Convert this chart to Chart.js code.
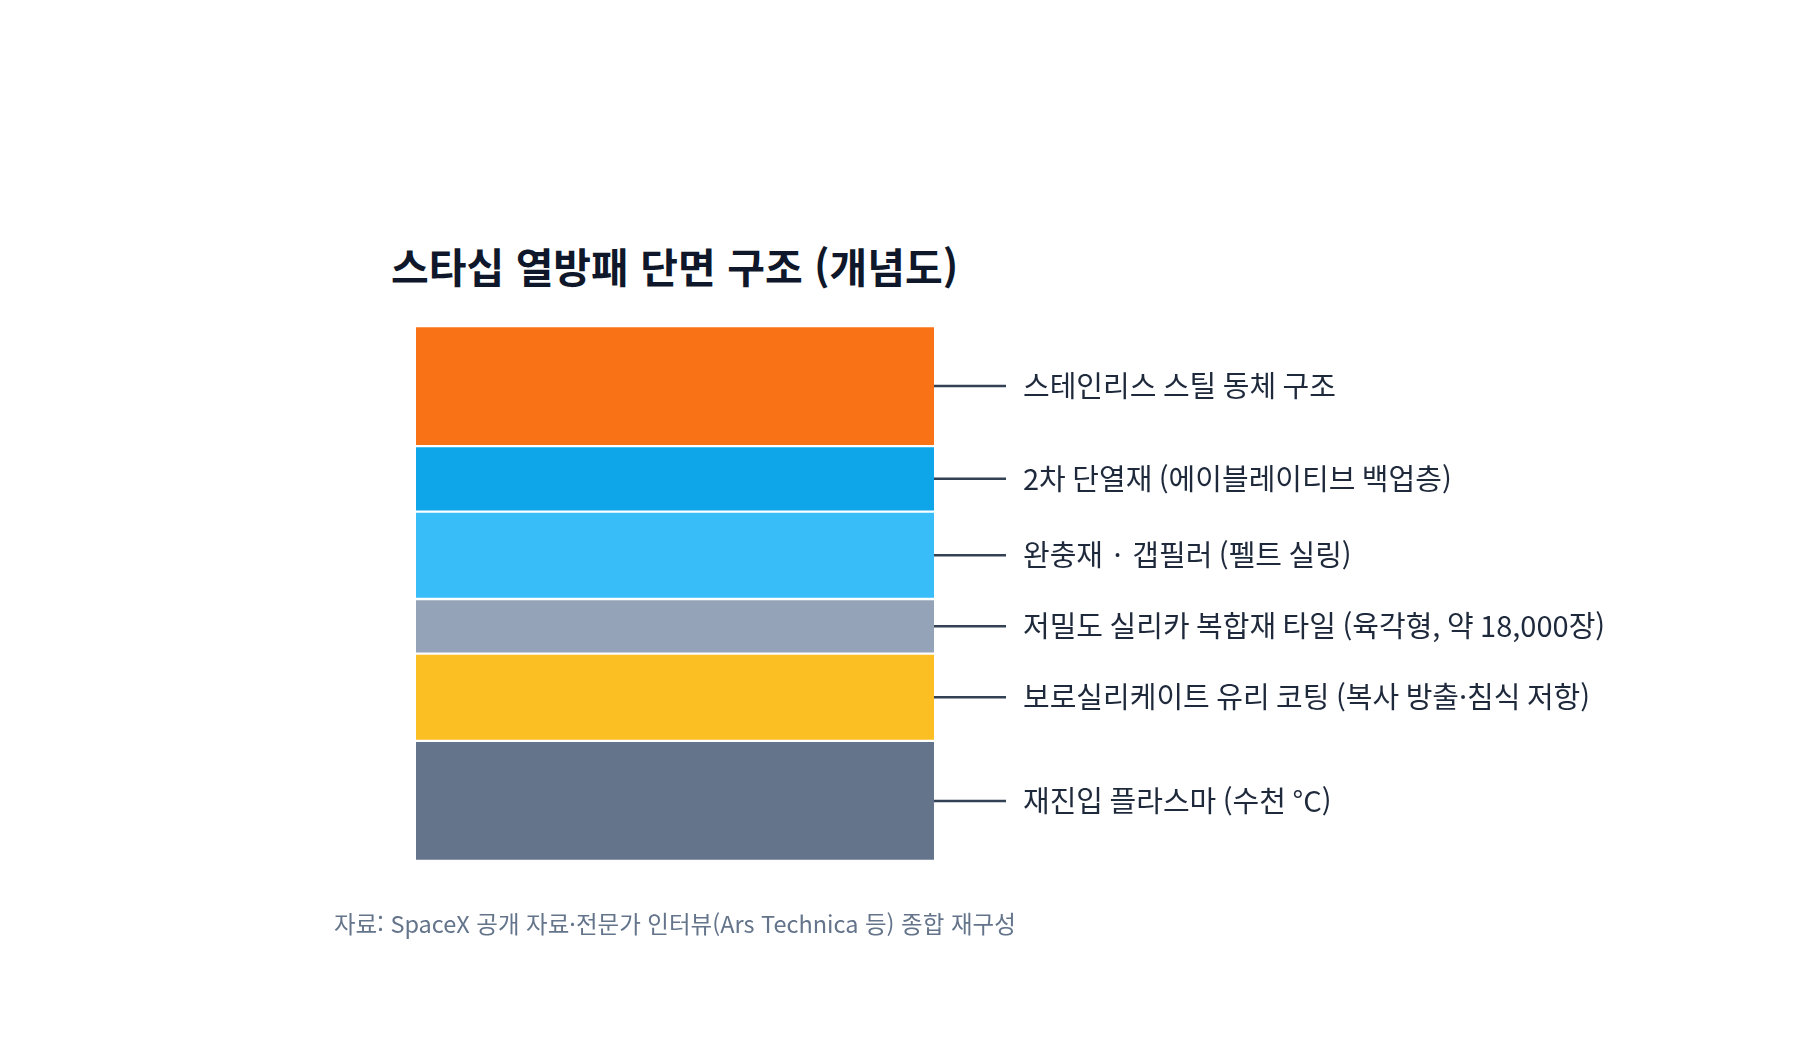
<!DOCTYPE html>
<html lang="ko">
<head>
<meta charset="utf-8">
<title>스타십 열방패 단면 구조 (개념도)</title>
<script src="https://cdn.jsdelivr.net/npm/chart.js@4.4.0/dist/chart.umd.min.js"></script>
<style>
    html, body { margin: 0; padding: 0; background: #ffffff; }
    body { width: 1800px; height: 1040px; position: relative; overflow: hidden; font-family: "Noto Sans CJK KR", "Noto Sans", sans-serif; }
    #wykres { position: absolute; left: 0; top: 0; }
    h1 { position: absolute; left: 391px; top: 245px; margin: 0; font-size: 41px; line-height: 41px; font-weight: 700; color: #0f172a; white-space: nowrap; }
    .zrodlo { position: absolute; left: 334px; top: 910px; margin: 0; font-size: 23.5px; line-height: 26px; color: #64748b; white-space: nowrap; }
</style>
</head>
<body>
<h1>스타십 열방패 단면 구조 (개념도)</h1>
<canvas id="wykres" width="1800" height="1040"></canvas>
<p class="zrodlo">자료: SpaceX 공개 자료·전문가 인터뷰(Ars Technica 등) 종합 재구성</p>
<script>
// warstwy od dołu (plazma) do góry (stal)
const warstwy = [
    '재진입 플라스마 (수천 °C)',
    '보로실리케이트 유리 코팅 (복사 방출·침식 저항)',
    '저밀도 실리카 복합재 타일 (육각형, 약 18,000장)',
    '완충재 · 갭필러 (펠트 실링)',
    '2차 단열재 (에이블레이티브 백업층)',
    '스테인리스 스틸 동체 구조'
];
const grubosci = [22, 16, 10, 16, 12, 22];
const kolory = ['#64748b', '#fbbf24', '#94a3b8', '#38bdf8', '#0ea5e9', '#f97316'];

const suma = grubosci.reduce((a, b) => a + b, 0);

const opisyWarstw = {
    id: 'opisyWarstw',
    afterDatasetsDraw(chart) {
        const ctx = chart.ctx;
        ctx.save();
        chart.data.datasets.forEach((ds, i) => {
            const el = chart.getDatasetMeta(i).data[0];
            if (!el) return;
            const prawo = el.x + el.width / 2;
            const srodek = (el.y + el.base) / 2;
            ctx.strokeStyle = '#334155';
            ctx.lineWidth = 2.5;
            ctx.beginPath();
            ctx.moveTo(prawo, srodek);
            ctx.lineTo(prawo + 72, srodek);
            ctx.stroke();
            ctx.fillStyle = '#1e293b';
            ctx.font = '29px "Noto Sans CJK KR", "Noto Sans", sans-serif';
            ctx.textBaseline = 'middle';
            ctx.textAlign = 'left';
            ctx.fillText(ds.label, prawo + 89, srodek);
        });
        ctx.restore();
    }
};

new Chart(document.getElementById('wykres').getContext('2d'), {
    type: 'bar',
    data: {
        labels: ['단면'],
        datasets: warstwy.map((nazwa, i) => ({
            label: nazwa,
            data: [grubosci[i]],
            backgroundColor: kolory[i],
            borderColor: '#ffffff',
            borderWidth: { top: 1.5, bottom: 1.5, left: 0, right: 0 },
            borderSkipped: false,
            barPercentage: 1,
            categoryPercentage: 1
        }))
    },
    options: {
        responsive: false,
        animation: false,
        devicePixelRatio: 1,
        layout: { padding: { left: 416, right: 866, top: 326, bottom: 179 } },
        plugins: {
            legend: { display: false },
            tooltip: { enabled: false },
            title: { display: false }
        },
        scales: {
            x: { stacked: true, display: false },
            y: { stacked: true, display: false, min: 0, max: suma }
        }
    },
    plugins: [opisyWarstw]
});
</script>
</body>
</html>
